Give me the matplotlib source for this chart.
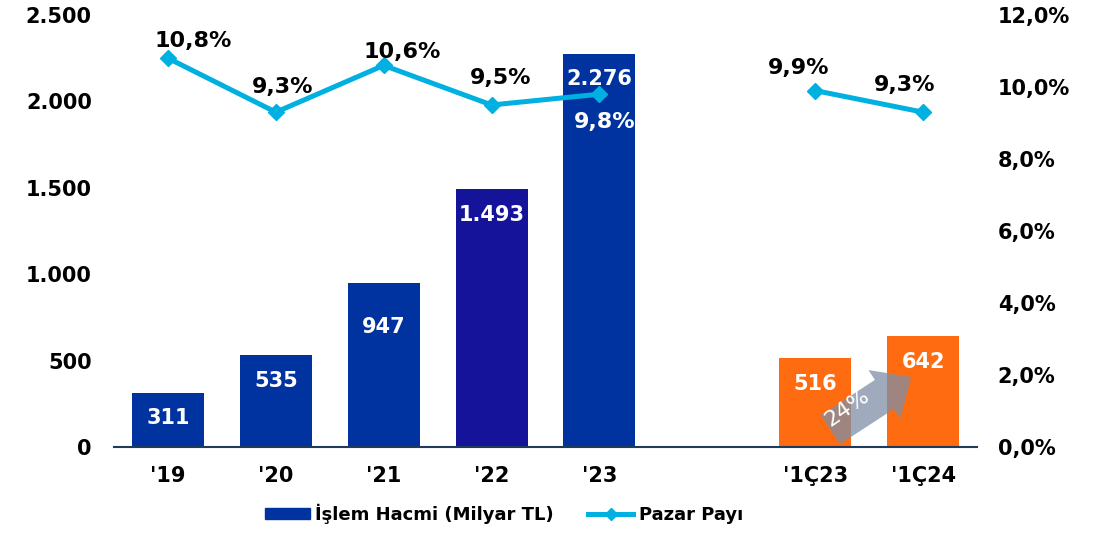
import numpy as np
import matplotlib.pyplot as plt
from matplotlib.lines import Line2D
from matplotlib.patches import Patch
from matplotlib.ticker import FuncFormatter

# data
categories = ["'19", "'20", "'21", "'22", "'23", "'1Ç23", "'1Ç24"]
volume = [311, 535, 947, 1493, 2276, 516, 642]          # İşlem Hacmi (Milyar TL)
share = [10.8, 9.3, 10.6, 9.5, 9.8, 9.9, 9.3]           # Pazar Payı (%)
growth_label = '24%'

BLUE = '#0033A0'
VIOLET = '#15139A'
ORANGE = '#FF6B10'
CYAN = '#00B0E0'
bar_colors = [BLUE, BLUE, BLUE, VIOLET, BLUE, ORANGE, ORANGE]

FS = 15
plt.rcParams['font.family'] = ['DejaVu Sans']
plt.rcParams['font.weight'] = 'bold'

# annual bars, then a gap, then the quarterly ones
n_year = 5
x = np.r_[np.arange(n_year), np.arange(len(categories) - n_year) + n_year + 1]

fig = plt.figure(figsize=(11.07, 5.35), dpi=100)
ax = fig.add_axes([0.103, 0.1645, 0.7796, 0.8075])
ax2 = ax.twinx()

ax.bar(x, volume, width=0.667, color=bar_colors, zorder=2)
ax.set_xlim(-0.5, 7.5)
ax.set_ylim(0, 2500)
ax.set_yticks(np.arange(0, 2501, 500))
ax.yaxis.set_major_formatter(FuncFormatter(lambda v, p: f'{int(v):,}'.replace(',', '.')))
ax.set_xticks(x)
ax.set_xticklabels(categories)
ax.tick_params(axis='x', length=0, pad=14, labelsize=FS)
ax.tick_params(axis='y', length=0, pad=16, labelsize=FS)

# bar value labels (inside, near top)
bar_label_drop = [25, 26, 44, 26, 25, 26, 26]
for xi, v, d in zip(x, volume, bar_label_drop):
    ax.annotate(f'{v:,}'.replace(',', '.'), (xi, v), xytext=(0, -d * 0.72),
                textcoords='offset points', ha='center', va='center',
                color='white', fontsize=FS, fontweight='bold', zorder=5)

# market share line on right axis
ax2.set_ylim(0, 12)
ax2.set_yticks(np.arange(0, 12.1, 2))
ax2.yaxis.set_major_formatter(FuncFormatter(lambda v, p: f'{v:.1f}%'.replace('.', ',')))
ax2.tick_params(axis='y', length=0, pad=15, labelsize=FS)
ax2.plot(x[:n_year], share[:n_year], color=CYAN, lw=3.6, marker='D', ms=8, zorder=3)
ax2.plot(x[n_year:], share[n_year:], color=CYAN, lw=3.6, marker='D', ms=8, zorder=3)

share_offsets = [(25, 17), (7, 25), (18, 13), (9, 27), (5, -28), (-17, 23), (-18, 27)]
for i, (xi, s) in enumerate(zip(x, share)):
    dx, dy = share_offsets[i]
    ax2.annotate(f'{s:.1f}%'.replace('.', ','), (xi, s), xytext=(dx * 0.72, dy * 0.72),
                 textcoords='offset points', ha='center', va='center',
                 color='white' if dy < 0 else 'black', fontsize=16, fontweight='bold',
                 zorder=6)

for a in (ax, ax2):
    for side in ('top', 'left', 'right', 'bottom'):
        a.spines[side].set_visible(False)
ax.spines['bottom'].set_visible(True)
ax.spines['bottom'].set_color('#1F3A5A')
ax.spines['bottom'].set_linewidth(1.5)
ax.set_zorder(ax2.get_zorder() - 1)
ax.patch.set_visible(False)

# growth arrow between the quarterly bars
ax2.annotate('', xy=(6.889, 405 / 2500 * 12), xytext=(6.14, 100 / 2500 * 12),
             arrowprops=dict(arrowstyle='simple,head_length=1.15,head_width=2.1,tail_width=1.25',
                             mutation_scale=20, color='#7F8FA6', alpha=0.75, lw=0,
                             shrinkA=0, shrinkB=0), zorder=4)
ax2.text(6.30, 225 / 2500 * 12, growth_label, rotation=35, ha='center', va='center',
         color='white', fontsize=16, fontweight='normal', zorder=5)

handles = [Patch(color=BLUE, label='İşlem Hacmi (Milyar TL)'),
           Line2D([0], [0], color=CYAN, lw=3.6, marker='D', ms=6, label='Pazar Payı')]
fig.legend(handles=handles, loc='lower center', bbox_to_anchor=(0.455, -0.01), ncol=2,
           frameon=False, fontsize=13, handlelength=2.5, handleheight=0.6,
           columnspacing=1.9, handletextpad=0.3)

fig.savefig('out.png', dpi=100)
